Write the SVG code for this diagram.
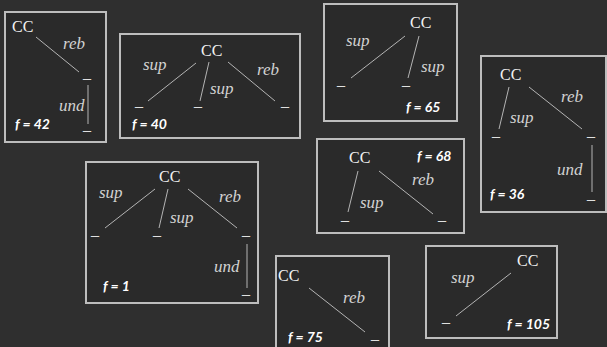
<svg xmlns="http://www.w3.org/2000/svg" width="607" height="347" viewBox="0 0 607 347">
  <style>
    .frame { fill: #2a2a2a; stroke: #bdbdbd; stroke-width: 2; }
    .root { font-family: "Liberation Serif", "DejaVu Serif", serif; font-size: 16px; fill: #f2f2f2; }
    .leaf { font-family: "Liberation Serif", "DejaVu Serif", serif; font-size: 16px; fill: #e0e0e0; }
    .lab { font-family: "Liberation Serif", "DejaVu Serif", serif; font-style: italic; font-size: 17px; fill: #d2d2d2; }
    .f { font-family: Lato, "Liberation Sans", sans-serif; font-weight: bold; font-style: italic; font-size: 14px; fill: #ffffff; }
    .edges line { stroke: #b4b4b4; stroke-width: 1; }
  </style>
  <rect width="607" height="347" fill="#2f2f2f"/>

  <!-- tree f = 42 -->
  <g id="tree42">
    <rect class="frame" x="5" y="12" width="101" height="130"/>
    <g class="edges">
      <line x1="36" y1="37" x2="79" y2="72"/>
      <line x1="88" y1="85" x2="88" y2="124"/>
    </g>
    <g id="t42-cc"><text class="root" x="12" y="32">CC</text></g>
    <g id="t42-a"><text class="leaf" x="83" y="78">_</text></g>
    <g id="t42-b"><text class="leaf" x="83" y="130">_</text></g>
    <text class="lab" x="63" y="49">reb</text>
    <text class="lab" x="59" y="111">und</text>
    <text class="f" x="15" y="129">f = 42</text>
  </g>

  <!-- tree f = 40 -->
  <g id="tree40">
    <rect class="frame" x="120" y="34" width="180" height="104"/>
    <g class="edges">
      <line x1="196" y1="63" x2="148" y2="101"/>
      <line x1="209" y1="62" x2="200" y2="101"/>
      <line x1="228" y1="62" x2="275" y2="101"/>
    </g>
    <g id="t40-cc"><text class="root" x="201" y="56">CC</text></g>
    <g id="t40-a"><text class="leaf" x="135" y="106">_</text></g>
    <g id="t40-b"><text class="leaf" x="194" y="106">_</text></g>
    <g id="t40-c"><text class="leaf" x="281" y="106">_</text></g>
    <text class="lab" x="143" y="70">sup</text>
    <text class="lab" x="210" y="94">sup</text>
    <text class="lab" x="257" y="75">reb</text>
    <text class="f" x="132" y="129">f = 40</text>
  </g>

  <!-- tree f = 65 -->
  <g id="tree65">
    <rect class="frame" x="324" y="4" width="133" height="117"/>
    <g class="edges">
      <line x1="405" y1="36" x2="351" y2="78"/>
      <line x1="419" y1="36" x2="408" y2="78"/>
    </g>
    <g id="t65-cc"><text class="root" x="410" y="28">CC</text></g>
    <g id="t65-a"><text class="leaf" x="337" y="85">_</text></g>
    <g id="t65-b"><text class="leaf" x="402" y="85">_</text></g>
    <text class="lab" x="346" y="46">sup</text>
    <text class="lab" x="421" y="72">sup</text>
    <text class="f" x="406" y="112">f = 65</text>
  </g>

  <!-- tree f = 36 -->
  <g id="tree36">
    <rect class="frame" x="481" y="56" width="125" height="156"/>
    <g class="edges">
      <line x1="509" y1="87" x2="499" y2="129"/>
      <line x1="529" y1="87" x2="582" y2="129"/>
      <line x1="592" y1="145" x2="592" y2="192"/>
    </g>
    <g id="t36-cc"><text class="root" x="500" y="80">CC</text></g>
    <g id="t36-a"><text class="leaf" x="492" y="136">_</text></g>
    <g id="t36-b"><text class="leaf" x="587" y="136">_</text></g>
    <g id="t36-c"><text class="leaf" x="587" y="199">_</text></g>
    <text class="lab" x="510" y="123">sup</text>
    <text class="lab" x="561" y="102">reb</text>
    <text class="lab" x="557" y="175">und</text>
    <text class="f" x="490" y="199">f = 36</text>
  </g>

  <!-- tree f = 68 -->
  <g id="tree68">
    <rect class="frame" x="317" y="139" width="147" height="94"/>
    <g class="edges">
      <line x1="358" y1="171" x2="348" y2="212"/>
      <line x1="379" y1="171" x2="433" y2="214"/>
    </g>
    <g id="t68-cc"><text class="root" x="349" y="163">CC</text></g>
    <g id="t68-a"><text class="leaf" x="341" y="220">_</text></g>
    <g id="t68-b"><text class="leaf" x="438" y="220">_</text></g>
    <text class="lab" x="360" y="208">sup</text>
    <text class="lab" x="412" y="185">reb</text>
    <text class="f" x="417" y="161">f = 68</text>
  </g>

  <!-- tree f = 1 -->
  <g id="tree1">
    <rect class="frame" x="86" y="162" width="172" height="141"/>
    <g class="edges">
      <line x1="155" y1="189" x2="105" y2="228"/>
      <line x1="168" y1="189" x2="159" y2="228"/>
      <line x1="188" y1="189" x2="237" y2="228"/>
      <line x1="247" y1="244" x2="247" y2="288"/>
    </g>
    <g id="t1-cc"><text class="root" x="159" y="182">CC</text></g>
    <g id="t1-a"><text class="leaf" x="91" y="235">_</text></g>
    <g id="t1-b"><text class="leaf" x="153" y="235">_</text></g>
    <g id="t1-c"><text class="leaf" x="242" y="235">_</text></g>
    <g id="t1-d"><text class="leaf" x="242" y="294">_</text></g>
    <text class="lab" x="99" y="198">sup</text>
    <text class="lab" x="170" y="223">sup</text>
    <text class="lab" x="219" y="202">reb</text>
    <text class="lab" x="214" y="272">und</text>
    <text class="f" x="103" y="291">f = 1</text>
  </g>

  <!-- tree f = 75 -->
  <g id="tree75">
    <rect class="frame" x="276" y="256" width="113" height="100"/>
    <g class="edges">
      <line x1="309" y1="288" x2="365" y2="332"/>
    </g>
    <g id="t75-cc"><text class="root" x="278" y="281">CC</text></g>
    <g id="t75-a"><text class="leaf" x="371" y="339">_</text></g>
    <text class="lab" x="343" y="303">reb</text>
    <text class="f" x="288" y="342">f = 75</text>
  </g>

  <!-- tree f = 105 -->
  <g id="tree105">
    <rect class="frame" x="426" y="246" width="131" height="92"/>
    <g class="edges">
      <line x1="511" y1="273" x2="456" y2="316"/>
    </g>
    <g id="t105-cc"><text class="root" x="517" y="266">CC</text></g>
    <g id="t105-a"><text class="leaf" x="442" y="322">_</text></g>
    <text class="lab" x="451" y="283">sup</text>
    <text class="f" x="507" y="329">f = 105</text>
  </g>
</svg>
